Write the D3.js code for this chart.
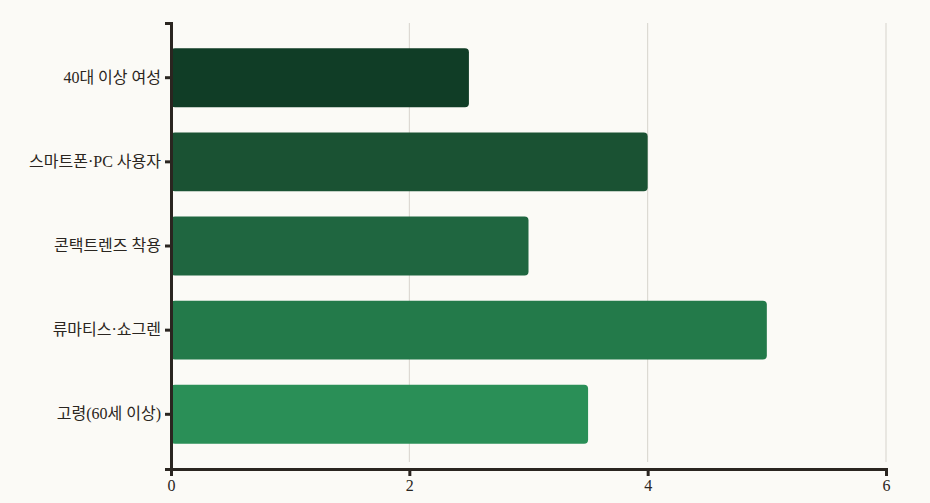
<!DOCTYPE html>
<html><head><meta charset="utf-8">
<script src="https://cdn.jsdelivr.net/npm/d3@7"></script>
<style>
html,body{margin:0;padding:0;background:#fbfaf6;}
svg{display:block;}
.tick text{font-family:"Liberation Serif","Noto Sans CJK KR",serif;font-size:16px;fill:#2a2520;}
</style></head>
<body><svg id="c" width="930" height="503"></svg>
<script>
const categories = ["40대 이상 여성","스마트폰·PC 사용자","콘택트렌즈 착용","류마티스·쇼그렌","고령(60세 이상)"];
const values = [2.5, 4, 3, 5, 3.5];
const colors = ["#103d26","#1a5233","#1f6640","#237a4a","#2a8f57"];
const xTicks = [0, 2, 4, 6];

const svg = d3.select("#c");
const m = {left:171, right:44, top:23, bottom:34};
const W = 930, H = 503;
const x = d3.scaleLinear().domain([0,6]).range([m.left, W-m.right]);
const y = d3.scaleBand().domain(categories).range([m.top, H-m.bottom]).paddingInner(0.3).paddingOuter(0.3);

// grid
svg.append("g").selectAll("line").data(xTicks.slice(1)).join("line")
  .attr("x1", d=>x(d)).attr("x2", d=>x(d))
  .attr("y1", m.top).attr("y2", H-m.bottom-7)
  .attr("stroke","#d6d3cc").attr("stroke-width",1);

// bars
svg.append("g").selectAll("rect").data(values).join("rect")
  .attr("x", x(0)).attr("y", (d,i)=>y(categories[i]))
  .attr("width", d=>x(d)-x(0)).attr("height", y.bandwidth())
  .attr("rx",4).attr("fill",(d,i)=>colors[i]);

// axes
const gx = svg.append("g").attr("transform",`translate(0,${H-m.bottom})`)
  .call(d3.axisBottom(x).tickValues(xTicks).tickFormat(d3.format("d")).tickSize(7).tickPadding(4));
gx.select(".domain").attr("stroke","#2a2520").attr("stroke-width",3);
gx.selectAll(".tick line").attr("stroke","#2a2520").attr("stroke-width",3);

const gy = svg.append("g").attr("transform",`translate(${m.left},0)`)
  .call(d3.axisLeft(y).tickSize(6).tickPadding(4));
gy.select(".domain").attr("stroke","#2a2520").attr("stroke-width",3);
gy.selectAll(".tick line").attr("stroke","#2a2520").attr("stroke-width",3);
</script></body></html>
